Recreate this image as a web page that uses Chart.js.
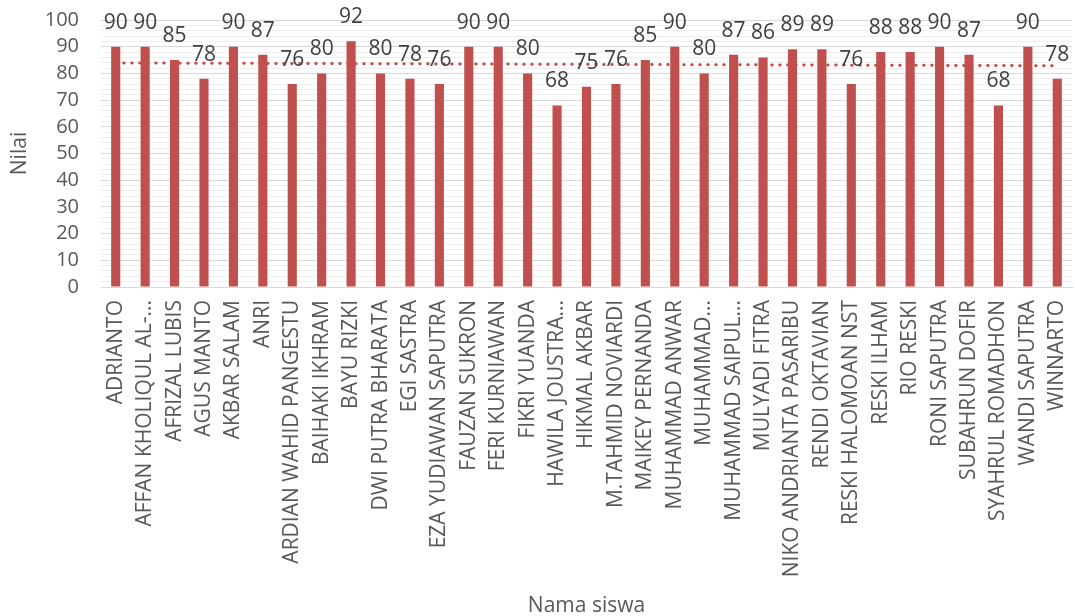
<!DOCTYPE html>
<html>
<head>
<meta charset="utf-8">
<title>Nilai siswa</title>
<script src="https://cdn.jsdelivr.net/npm/chart.js@4.4.1/dist/chart.umd.min.js"></script>
<style>
  html, body { margin: 0; padding: 0; background: #ffffff; }
  .chart-box { position: relative; width: 1075px; height: 616px; }
</style>
</head>
<body>
<div class="chart-box"><canvas id="nilaiChart"></canvas></div>
<script>
const names = [
    'ADRIANTO', 'AFFAN KHOLIQUL AL-...', 'AFRIZAL LUBIS', 'AGUS MANTO', 'AKBAR SALAM',
    'ANRI', 'ARDIAN WAHID PANGESTU', 'BAIHAKI IKHRAM', 'BAYU RIZKI', 'DWI PUTRA BHARATA',
    'EGI SASTRA', 'EZA YUDIAWAN SAPUTRA', 'FAUZAN SUKRON', 'FERI KURNIAWAN', 'FIKRI YUANDA',
    'HAWILA JOUSTRA...', 'HIKMAL AKBAR', 'M.TAHMID NOVIARDI', 'MAIKEY PERNANDA', 'MUHAMMAD ANWAR',
    'MUHAMMAD...', 'MUHAMMAD SAIPUL...', 'MULYADI FITRA', 'NIKO ANDRIANTA PASARIBU', 'RENDI OKTAVIAN',
    'RESKI HALOMOAN NST', 'RESKI ILHAM', 'RIO RESKI', 'RONI SAPUTRA', 'SUBAHRUN DOFIR',
    'SYAHRUL ROMADHON', 'WANDI SAPUTRA', 'WINNARTO'
];
const nilai = [
    90, 90, 85, 78, 90,
    87, 76, 80, 92, 80,
    78, 76, 90, 90, 80,
    68, 75, 76, 85, 90,
    80, 87, 86, 89, 89,
    76, 88, 88, 90, 87,
    68, 90, 78
];
const yTicks = [0, 10, 20, 30, 40, 50, 60, 70, 80, 90, 100];

// linear trend (least squares over category index)
function linearTrend(values) {
    const n = values.length;
    let sx = 0, sy = 0, sxy = 0, sxx = 0;
    values.forEach((v, i) => {
        sx += i; sy += v; sxy += i * v; sxx += i * i;
    });
    const slope = (n * sxy - sx * sy) / (n * sxx - sx * sx);
    const icept = (sy - slope * sx) / n;
    return values.map((v, i) => icept + slope * i);
}

const red = '#C0504D';
const textGrey = '#595959';
const fontFamily = '"Open Sans", "DejaVu Sans", sans-serif';

// value labels above each bar
const barLabels = {
    id: 'barLabels',
    afterDatasetsDraw(chart) {
        const meta = chart.getDatasetMeta(0);
        const ctx = chart.ctx;
        ctx.save();
        ctx.font = '21px ' + fontFamily;
        ctx.fillStyle = '#404040';
        ctx.textAlign = 'center';
        ctx.textBaseline = 'middle';
        meta.data.forEach((bar, i) => {
            ctx.fillText(String(nilai[i]), bar.x, bar.y - 24);
        });
        ctx.restore();
    }
};

const ctx = document.getElementById('nilaiChart').getContext('2d');
const nilaiChart = new Chart(ctx, {
    type: 'bar',
    data: {
        labels: names,
        datasets: [{
            type: 'bar',
            label: 'Nilai',
            data: nilai,
            backgroundColor: red,
            borderWidth: 0,
            categoryPercentage: 1,
            barPercentage: 0.31,
            order: 1
        }, {
            type: 'line',
            label: 'Linear (Nilai)',
            data: linearTrend(nilai),
            borderColor: red,
            borderWidth: 3,
            borderDash: [0.5, 7.5],
            borderCapStyle: 'round',
            pointRadius: 0,
            fill: false,
            tension: 0,
            order: 0
        }]
    },
    options: {
        responsive: true,
        maintainAspectRatio: false,
        animation: false,
        layout: {
            padding: { top: 20, right: 3, left: 0, bottom: 0 }
        },
        scales: {
            x: {
                grid: { display: false, drawTicks: false },
                border: { display: true, color: '#d9d9d9' },
                ticks: {
                    autoSkip: false,
                    minRotation: 90,
                    maxRotation: 90,
                    padding: 13,
                    color: textGrey,
                    font: { family: fontFamily, size: 21 }
                },
                title: {
                    display: true,
                    text: 'Nama siswa',
                    color: textGrey,
                    font: { family: fontFamily, size: 21 },
                    padding: { top: 0, bottom: -3 }
                },
                afterFit(scale) {
                    scale.height = 329;
                    scale.paddingLeft = 0;
                    scale.paddingRight = 0;
                }
            },
            y: {
                min: 0,
                max: 100,
                grid: {
                    drawTicks: false,
                    color: c => (c.tick && c.tick.value % 10 === 0) ? '#d9d9d9' : '#efefef',
                    lineWidth: 1
                },
                border: { display: false },
                ticks: {
                    stepSize: 2,
                    autoSkip: false,
                    padding: 22,
                    color: textGrey,
                    font: { family: fontFamily, size: 20 },
                    callback: v => yTicks.includes(v) ? String(v) : ''
                },
                title: {
                    display: true,
                    text: 'Nilai',
                    color: textGrey,
                    font: { family: fontFamily, size: 21 },
                    padding: { top: 7, bottom: 0 }
                },
                afterFit(scale) {
                    scale.width = 101;
                    scale.paddingTop = 0;
                    scale.paddingBottom = 0;
                }
            }
        },
        plugins: {
            legend: { display: false },
            tooltip: { enabled: false }
        }
    },
    plugins: [barLabels]
});
</script>
</body>
</html>
